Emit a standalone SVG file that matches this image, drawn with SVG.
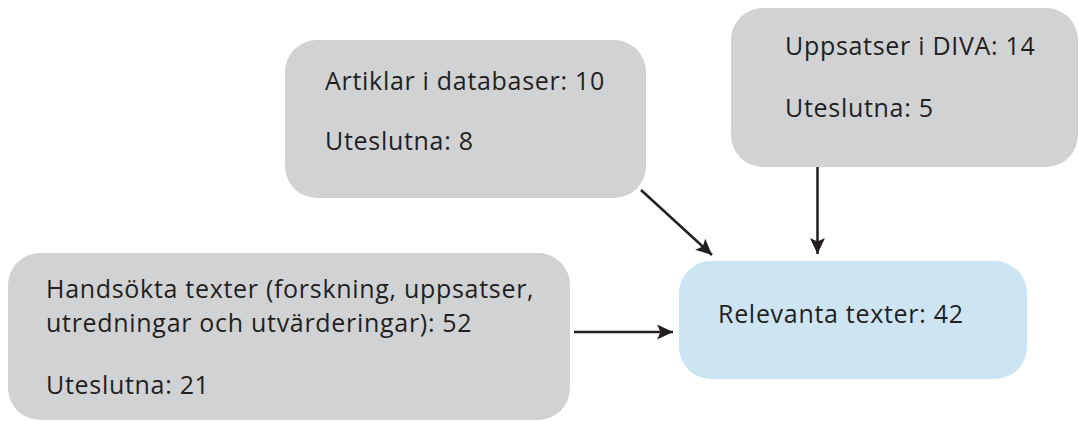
<svg xmlns="http://www.w3.org/2000/svg" width="1079" height="421" viewBox="0 0 1079 421">
<style>
.grey{fill:#d1d2d4}
.blue{fill:#cde4f3}
text{font-family:"Open Sans","Noto Sans",sans-serif;font-size:25px;letter-spacing:0.7px;fill:#231f20}
.edge{stroke:#231f20;stroke-width:2.5;fill:none;marker-end:url(#ah)}
</style>
<defs>
<marker id="ah" markerUnits="userSpaceOnUse" markerWidth="17" markerHeight="15" refX="16" refY="7.5" orient="auto">
<path d="M0,0 L16,7.5 L0,15 L3.5,7.5 Z" fill="#231f20"/>
</marker>
</defs>
<g id="n-artiklar">
<rect class="grey" x="285" y="40" width="361" height="158" rx="32"/>
<text x="325" y="90">Artiklar i databaser: 10</text>
<text x="325" y="150">Uteslutna: 8</text>
</g>
<g id="n-uppsatser">
<rect class="grey" x="731" y="8" width="347" height="159" rx="32"/>
<text x="785" y="55">Uppsatser i DIVA: 14</text>
<text x="785" y="117">Uteslutna: 5</text>
</g>
<g id="n-handsokta">
<rect class="grey" x="8" y="253" width="562" height="167" rx="32"/>
<text x="46" y="298">Handsökta texter (forskning, uppsatser,</text>
<text x="46" y="332">utredningar och utvärderingar): 52</text>
<text x="46" y="394">Uteslutna: 21</text>
</g>
<g id="n-relevanta">
<rect class="blue" x="679" y="261" width="348" height="118" rx="32"/>
<text x="718" y="323">Relevanta texter: 42</text>
</g>
<g id="connectors">
<line class="edge" x1="641" y1="190" x2="712" y2="255"/>
<line class="edge" x1="817.5" y1="167" x2="817.5" y2="254"/>
<line class="edge" x1="574" y1="332" x2="673" y2="332"/>
</g>
</svg>
